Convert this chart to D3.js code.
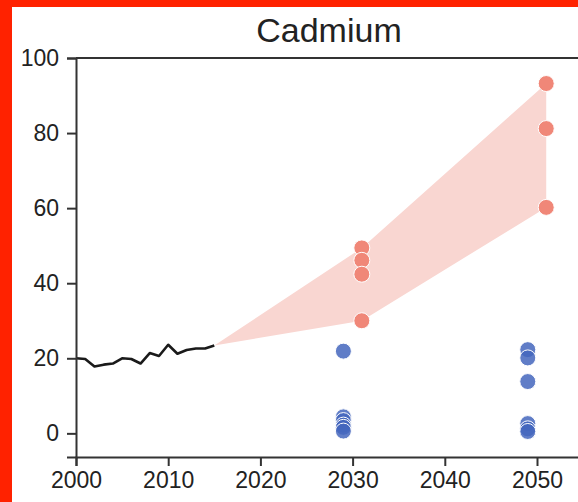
<!DOCTYPE html>
<html>
<head>
<meta charset="utf-8">
<script src="https://cdn.jsdelivr.net/npm/d3@7"></script>
<style>
  html, body { margin: 0; padding: 0; background: #ff2200; overflow: hidden; }
  svg { display: block; }
</style>
</head>
<body>
<script>
// historical series
const histYears  = [2000, 2001, 2002, 2003, 2004, 2005, 2006, 2007, 2008, 2009, 2010, 2011, 2012, 2013, 2014, 2015];
const histValues = [20.0, 19.8, 17.8, 18.3, 18.6, 20.0, 19.8, 18.6, 21.4, 20.6, 23.6, 21.2, 22.2, 22.6, 22.6, 23.4];

// scenario points (red = high, blue = low)
const redYears  = [2031, 2031, 2031, 2031, 2051, 2051, 2051];
const redValues = [49.4, 46.1, 42.4, 30.0, 93.2, 81.2, 60.2];
const blueYears  = [2029, 2029, 2029, 2029, 2029, 2029, 2049, 2049, 2049, 2049, 2049, 2049];
const blueValues = [21.9, 4.4, 3.4, 2.2, 1.6, 0.6, 22.3, 20.1, 13.8, 2.6, 1.2, 0.5];

const xTicks = [2000, 2010, 2020, 2030, 2040, 2050];
const yTicks = [0, 20, 40, 60, 80, 100];

const width = 578, height = 502;
const padLeft = 76, padTop = 58, padBottom = 457;

const svg = d3.select("body").append("svg")
    .attr("width", width)
    .attr("height", height);

// white panel, red frame shows on top/left
svg.append("rect")
    .attr("x", 12).attr("y", 7)
    .attr("width", width - 12).attr("height", height - 7)
    .attr("fill", "#fff");

const xScale = d3.scaleLinear().domain([2000, 2060]).range([padLeft, padLeft + 60 * 9.22]);
const yScale = d3.scaleLinear().domain([-6.3, 100]).range([padBottom, padTop]);

// band built from the point extents
const last = histValues[histValues.length - 1];
const bandYears = [2015, ...Array.from(new Set(redYears))];
const band = bandYears.map((yr, i) => {
    if (i === 0) return {x: yr, lo: last, hi: last};
    const vals = redValues.filter((v, j) => redYears[j] === yr);
    return {x: yr, lo: d3.min(vals), hi: d3.max(vals)};
});

svg.append("path")
    .datum(band)
    .attr("fill", "#f9d6d1")
    .attr("d", d3.area()
        .x(d => xScale(d.x))
        .y0(d => yScale(d.lo))
        .y1(d => yScale(d.hi)));

svg.append("path")
    .datum(histYears.map((y, i) => [y, histValues[i]]))
    .attr("fill", "none")
    .attr("stroke", "#1a1a1a")
    .attr("stroke-width", 2.6)
    .attr("stroke-linejoin", "round")
    .attr("d", d3.line().x(d => xScale(d[0])).y(d => yScale(d[1])));

svg.selectAll(".red")
    .data(redValues)
    .enter()
    .append("circle")
    .attr("class", "red")
    .attr("cx", (d, i) => xScale(redYears[i]))
    .attr("cy", d => yScale(d))
    .attr("r", 8)
    .attr("fill", "#f08778")
    .attr("stroke", "#fff")
    .attr("stroke-width", 1);

svg.selectAll(".blue")
    .data(blueValues)
    .enter()
    .append("circle")
    .attr("class", "blue")
    .attr("cx", (d, i) => xScale(blueYears[i]))
    .attr("cy", d => yScale(d))
    .attr("r", 8)
    .attr("fill", "#4466bd")
    .attr("fill-opacity", 0.85)
    .attr("stroke", "#fff")
    .attr("stroke-width", 1);

const xAxis = d3.axisBottom(xScale).tickValues(xTicks).tickFormat(d3.format("d")).tickSize(9).tickPadding(6);
const gx = svg.append("g")
    .attr("transform", `translate(0, ${padBottom})`)
    .call(xAxis);

const yAxis = d3.axisLeft(yScale).tickValues(yTicks).tickSize(9).tickPadding(8);
const gy = svg.append("g")
    .attr("transform", `translate(${padLeft}, 0)`)
    .call(yAxis);

[gx, gy].forEach(g => {
    g.select(".domain").attr("stroke", "#333").attr("stroke-width", 2);
    g.selectAll(".tick line").attr("stroke", "#333").attr("stroke-width", 2);
    g.selectAll("text")
        .attr("fill", "#222")
        .style("font-family", "Liberation Sans, Arial, sans-serif")
        .style("font-size", "23px");
});

// top spine
svg.append("line")
    .attr("x1", padLeft).attr("x2", width)
    .attr("y1", padTop).attr("y2", padTop)
    .attr("stroke", "#333").attr("stroke-width", 2);

svg.append("text")
    .attr("x", 329)
    .attr("y", 42)
    .attr("text-anchor", "middle")
    .attr("fill", "#222")
    .style("font-family", "Liberation Sans, Arial, sans-serif")
    .style("font-size", "34px")
    .text("Cadmium");
</script>
</body>
</html>
